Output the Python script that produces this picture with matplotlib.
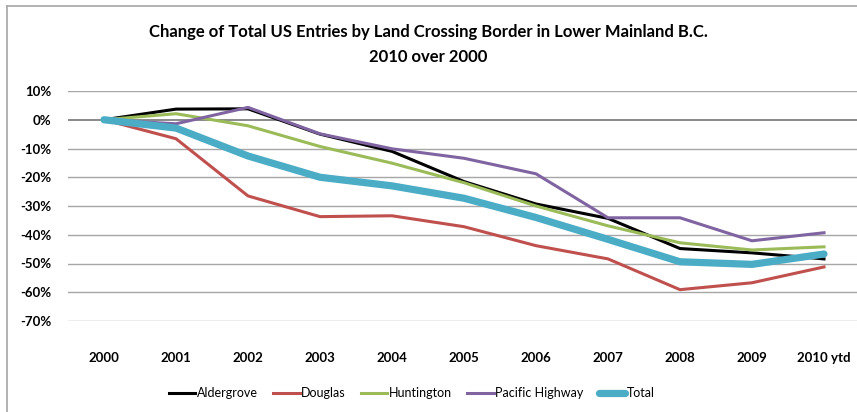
import matplotlib
matplotlib.use("Agg")
import matplotlib.pyplot as plt
from matplotlib.lines import Line2D
from matplotlib.ticker import FuncFormatter

plt.rcParams['font.family'] = ['Lato', 'DejaVu Sans']

#------------------------------------------------------------------------#
# Data (percent change vs 2000)
#------------------------------------------------------------------------#
years = ['2000', '2001', '2002', '2003', '2004', '2005', '2006', '2007',
         '2008', '2009', '2010 ytd']

aldergrove = [0, 3.7, 3.8, -5.0, -11.0, -21.5, -29.3, -34.3, -44.8, -46.3, -48.4]
douglas = [0, -6.6, -26.5, -33.7, -33.4, -37.2, -43.8, -48.4, -59.1, -56.7, -51.2]
huntington = [0, 2.1, -2.1, -9.3, -15.1, -21.9, -30.0, -36.9, -42.8, -45.3, -44.2]
pacific_hwy = [0, -1.4, 4.3, -4.9, -10.1, -13.4, -18.8, -34.1, -34.1, -42.1, -39.3]
total = [0, -2.9, -12.6, -20.0, -23.0, -27.3, -34.0, -41.6, -49.4, -50.3, -46.7]

#------------------------------------------------------------------------#
# Plot
#------------------------------------------------------------------------#
fig = plt.figure(figsize=(8.57, 4.12), dpi=100)
ax = fig.add_axes([68/857, 1 - 321/412, 792/857, 230/412])

x = range(len(years))
ax.plot(x, aldergrove, color='black', lw=2.2, label='Aldergrove', zorder=3)
ax.plot(x, douglas, color='#C0504D', lw=2.2, label='Douglas', zorder=3)
ax.plot(x, huntington, color='#9BBB59', lw=2.2, label='Huntington', zorder=3)
ax.plot(x, pacific_hwy, color='#8064A2', lw=2.2, label='Pacific Highway', zorder=3)
ax.plot(x, total, color='#4BACC6', lw=5.2, label='Total', zorder=3,
        solid_capstyle='round')

ax.set_xlim(-0.5, len(years) - 0.5)
ax.set_ylim(-70, 10)
ax.set_yticks(range(-70, 11, 10))
ax.yaxis.set_major_formatter(FuncFormatter(lambda v, p: '%d%%' % v))
ax.set_xticks(list(x))
ax.set_xticklabels(years)

# gridlines, 0% line a bit darker
for v in range(-70, 11, 10):
    ax.axhline(v, color='#808080' if v == 0 else '#a6a6a6',
               lw=1.3 if v == 0 else 1.0, zorder=1)

for s in ax.spines.values():
    s.set_visible(False)
ax.tick_params(axis='both', length=0, labelsize=9.5)
ax.tick_params(axis='y', pad=12)
ax.tick_params(axis='x', pad=22)
for lab in ax.get_xticklabels() + ax.get_yticklabels():
    lab.set_fontweight('bold')

fig.text(0.5, 1 - 32/412, 'Change of Total US Entries by Land Crossing Border in Lower Mainland B.C.',
         ha='center', va='center', fontsize=12, fontweight='bold')
fig.text(0.5, 1 - 57/412, '2010 over 2000', ha='center', va='center',
         fontsize=12, fontweight='bold')

fig.legend(*ax.get_legend_handles_labels(), loc='center',
           bbox_to_anchor=(412/857, 1 - 393/412), ncol=5, frameon=False,
           fontsize=9, handlelength=2.1, handletextpad=0.15, columnspacing=1.2)

# chart frame
fig.add_artist(Line2D([7/857, 1], [1 - 6/412, 1 - 6/412], color='#a6a6a6', lw=1.2))
fig.add_artist(Line2D([7/857, 7/857], [0, 1 - 6/412], color='#a6a6a6', lw=1.2))

plt.savefig('out.png', dpi=100)
